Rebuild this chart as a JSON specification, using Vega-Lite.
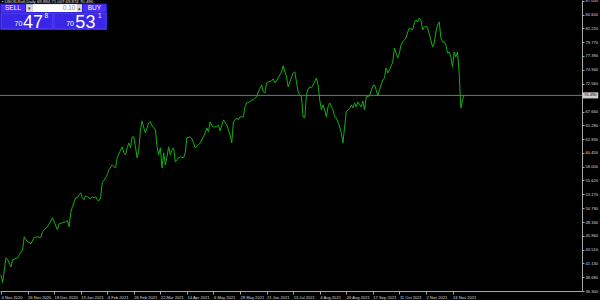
{
  "$schema": "https://vega.github.io/schema/vega-lite/v6.json",
  "width": 582,
  "height": 291,
  "autosize": {"type": "none"},
  "padding": {"left": 0, "top": 0, "right": 18, "bottom": 9},
  "background": "#000000",
  "config": {
    "view": {"stroke": null},
    "axis": {"grid": false, "domainColor": "#a8a8a8", "tickColor": "#a8a8a8", "labelColor": "#d8d8d8", "labelFont": "Liberation Sans", "labelFontSize": 4.1, "labelOverlap": false, "labelSeparation": 0, "labelFlush": false, "labelBound": false, "tickCount": 200},
    "text": {"font": "Liberation Sans"}
  },
  "layer": [
    {
      "data": {"values": [
        {"bar":0,"close":39.15},{"bar":1,"close":37.75},{"bar":3,"close":42.11},{"bar":4,"close":41.76},{"bar":6,"close":40.54},{"bar":7,"close":41.76},{"bar":10,"close":42.11},{"bar":11,"close":42.64},{"bar":13,"close":43.51},{"bar":14,"close":45.78},{"bar":15,"close":45.26},{"bar":16,"close":44.91},{"bar":18,"close":44.56},{"bar":20,"close":45.61},{"bar":22,"close":45.78},{"bar":24,"close":45.61},{"bar":25,"close":46.65},{"bar":26,"close":47.00},{"bar":28,"close":47.52},{"bar":31,"close":49.10},{"bar":32,"close":48.40},{"bar":34,"close":47.00},{"bar":35,"close":48.05},{"bar":37,"close":48.23},{"bar":39,"close":48.40},{"bar":40,"close":48.57},{"bar":41,"close":47.52},{"bar":42,"close":49.97},{"bar":43,"close":51.02},{"bar":45,"close":52.59},{"bar":46,"close":52.59},{"bar":47,"close":53.11},{"bar":48,"close":53.46},{"bar":49,"close":52.59},{"bar":50,"close":52.24},{"bar":51,"close":52.94},{"bar":52,"close":52.76},{"bar":54,"close":52.42},{"bar":55,"close":52.76},{"bar":56,"close":52.59},{"bar":57,"close":52.76},{"bar":58,"close":52.24},{"bar":59,"close":52.07},{"bar":60,"close":52.59},{"bar":61,"close":55.21},{"bar":63,"close":56.08},{"bar":64,"close":56.61},{"bar":65,"close":57.48},{"bar":67,"close":58.35},{"bar":68,"close":58.00},{"bar":69,"close":57.83},{"bar":70,"close":59.57},{"bar":71,"close":60.27},{"bar":73,"close":61.49},{"bar":74,"close":60.45},{"bar":75,"close":60.10},{"bar":76,"close":61.32},{"bar":77,"close":62.19},{"bar":78,"close":61.32},{"bar":79,"close":63.24},{"bar":80,"close":63.24},{"bar":81,"close":61.49},{"bar":82,"close":59.57},{"bar":83,"close":60.97},{"bar":84,"close":64.46},{"bar":85,"close":66.03},{"bar":86,"close":64.81},{"bar":87,"close":63.94},{"bar":89,"close":65.69},{"bar":90,"close":65.86},{"bar":91,"close":65.16},{"bar":93,"close":64.46},{"bar":94,"close":61.49},{"bar":95,"close":60.10},{"bar":96,"close":61.32},{"bar":97,"close":57.83},{"bar":98,"close":60.45},{"bar":99,"close":58.35},{"bar":100,"close":59.75},{"bar":101,"close":61.49},{"bar":102,"close":60.10},{"bar":103,"close":60.97},{"bar":104,"close":61.32},{"bar":105,"close":58.88},{"bar":107,"close":59.57},{"bar":108,"close":59.75},{"bar":110,"close":59.57},{"bar":111,"close":60.45},{"bar":112,"close":63.07},{"bar":114,"close":63.24},{"bar":115,"close":62.89},{"bar":116,"close":62.19},{"bar":117,"close":61.32},{"bar":119,"close":61.84},{"bar":120,"close":62.19},{"bar":122,"close":63.24},{"bar":123,"close":63.94},{"bar":124,"close":64.81},{"bar":125,"close":64.11},{"bar":126,"close":65.86},{"bar":127,"close":65.16},{"bar":128,"close":64.99},{"bar":130,"close":64.99},{"bar":131,"close":65.34},{"bar":132,"close":64.29},{"bar":134,"close":66.21},{"bar":136,"close":65.34},{"bar":138,"close":63.59},{"bar":139,"close":62.19},{"bar":140,"close":65.86},{"bar":142,"close":66.56},{"bar":143,"close":66.21},{"bar":144,"close":66.73},{"bar":146,"close":66.73},{"bar":147,"close":68.48},{"bar":148,"close":69.18},{"bar":150,"close":69.35},{"bar":151,"close":69.70},{"bar":152,"close":69.70},{"bar":154,"close":70.23},{"bar":155,"close":71.10},{"bar":157,"close":72.32},{"bar":158,"close":71.10},{"bar":159,"close":70.92},{"bar":160,"close":72.67},{"bar":161,"close":72.84},{"bar":163,"close":73.02},{"bar":164,"close":73.37},{"bar":165,"close":72.67},{"bar":166,"close":73.02},{"bar":167,"close":73.54},{"bar":169,"close":74.59},{"bar":170,"close":75.64},{"bar":172,"close":73.72},{"bar":173,"close":71.97},{"bar":174,"close":72.84},{"bar":176,"close":74.41},{"bar":177,"close":74.59},{"bar":178,"close":72.84},{"bar":179,"close":71.10},{"bar":180,"close":70.57},{"bar":181,"close":70.23},{"bar":182,"close":66.73},{"bar":183,"close":66.56},{"bar":184,"close":70.57},{"bar":185,"close":71.62},{"bar":186,"close":71.97},{"bar":187,"close":71.80},{"bar":189,"close":72.84},{"bar":190,"close":73.54},{"bar":191,"close":72.32},{"bar":192,"close":69.70},{"bar":193,"close":67.95},{"bar":194,"close":68.83},{"bar":195,"close":67.95},{"bar":196,"close":66.73},{"bar":197,"close":68.48},{"bar":198,"close":69.18},{"bar":200,"close":67.95},{"bar":201,"close":66.73},{"bar":202,"close":66.56},{"bar":204,"close":64.99},{"bar":205,"close":63.94},{"bar":206,"close":62.19},{"bar":207,"close":64.99},{"bar":208,"close":67.60},{"bar":209,"close":67.95},{"bar":210,"close":68.13},{"bar":211,"close":68.83},{"bar":212,"close":68.30},{"bar":213,"close":69.18},{"bar":214,"close":68.48},{"bar":215,"close":69.35},{"bar":216,"close":68.83},{"bar":217,"close":68.48},{"bar":218,"close":69.53},{"bar":219,"close":67.95},{"bar":220,"close":70.23},{"bar":222,"close":70.40},{"bar":224,"close":72.15},{"bar":225,"close":72.32},{"bar":226,"close":71.45},{"bar":227,"close":70.40},{"bar":228,"close":71.45},{"bar":230,"close":73.19},{"bar":231,"close":73.54},{"bar":232,"close":75.29},{"bar":233,"close":74.41},{"bar":234,"close":74.94},{"bar":236,"close":76.33},{"bar":237,"close":78.78},{"bar":239,"close":77.03},{"bar":240,"close":77.91},{"bar":241,"close":79.30},{"bar":242,"close":79.83},{"bar":244,"close":80.53},{"bar":245,"close":81.57},{"bar":246,"close":82.27},{"bar":248,"close":81.92},{"bar":249,"close":83.14},{"bar":250,"close":83.67},{"bar":251,"close":83.32},{"bar":252,"close":84.02},{"bar":253,"close":83.67},{"bar":254,"close":81.92},{"bar":255,"close":82.45},{"bar":256,"close":82.62},{"bar":257,"close":82.27},{"bar":258,"close":81.22},{"bar":260,"close":78.95},{"bar":261,"close":79.65},{"bar":262,"close":81.57},{"bar":263,"close":82.80},{"bar":264,"close":83.32},{"bar":265,"close":80.53},{"bar":266,"close":79.83},{"bar":267,"close":79.83},{"bar":268,"close":79.30},{"bar":269,"close":77.91},{"bar":270,"close":78.08},{"bar":271,"close":77.21},{"bar":272,"close":75.46},{"bar":273,"close":78.08},{"bar":274,"close":77.21},{"bar":275,"close":78.08},{"bar":276,"close":74.41},{"bar":277,"close":68.30},{"bar":278,"close":69.70},{"bar":279,"close":70.49}
      ]},
      "mark": {"type": "line", "color": "#12b012", "strokeWidth": 1, "clip": true},
      "encoding": {
        "x": {"field": "bar", "type": "quantitative", "title": null,
          "scale": {"domain": [-0.6, 350], "nice": false, "zero": false},
          "axis": {"orient": "bottom", "values": [0,16,32,48,64,80,96,112,128,144,160,176,192,208,224,240,256,272], "tickCount": 200,
            "labelExpr": "['4 Nov 2020','26 Nov 2020','18 Dec 2020','13 Jan 2021','4 Feb 2021','26 Feb 2021','22 Mar 2021','14 Apr 2021','6 May 2021','28 May 2021','21 Jun 2021','13 Jul 2021','4 Aug 2021','26 Aug 2021','17 Sep 2021','11 Oct 2021','2 Nov 2021','24 Nov 2021'][round(datum.value/16)]",
            "labelAlign": "left", "labelPadding": 1, "tickSize": 3, "labelBaseline": "top", "labelDx": 1, "labelOverlap": false}},
        "y": {"field": "close", "type": "quantitative", "title": null,
          "scale": {"domain": [36.3, 87.161], "nice": false, "zero": false},
          "axis": {"orient": "right", "values": [87.05,84.6,82.22,79.77,77.39,74.94,72.56,67.66,65.28,62.83,60.45,58.0,55.62,53.17,50.79,48.34,45.96,43.51,41.13,38.68,36.3], "tickCount": 200,
            "format": ".3f", "tickSize": 2, "labelPadding": 1, "labelOverlap": false}}
      }
    },
    {
      "data": {"values": [{}]},
      "mark": {"type": "rule", "color": "#6e7688", "strokeWidth": 1},
      "encoding": {"y": {"datum": 70.49, "type": "quantitative", "title": null}}
    },
    {
      "data": {"values": [{}]},
      "mark": {"type": "rect", "fill": "#cfcfcf", "clip": false},
      "encoding": {
        "x": {"datum": 350.3, "type": "quantitative", "title": null},
        "x2": {"datum": 359.8},
        "y": {"datum": 71.02, "type": "quantitative", "title": null},
        "y2": {"datum": 69.96}
      }
    },
    {
      "data": {"values": [{"label": "70.490"}]},
      "mark": {"type": "text", "color": "#000000", "fontSize": 4.1, "align": "left", "baseline": "middle", "dx": 1.5},
      "encoding": {
        "x": {"datum": 350.3, "type": "quantitative", "title": null},
        "y": {"datum": 70.49, "type": "quantitative", "title": null},
        "text": {"field": "label"}
      }
    },
    {
      "data": {"values": [{"label": "▪ USOILRoll,Daily  69.894 71.007 69.874 70.490"}]},
      "mark": {"type": "text", "color": "#e0e0e0", "fontSize": 4.3, "align": "left", "baseline": "middle"},
      "encoding": {
        "x": {"datum": 0.6, "type": "quantitative", "title": null},
        "y": {"datum": 86.85, "type": "quantitative", "title": null},
        "text": {"field": "label"}
      }
    },
    {
      "data": {"values": [{}]},
      "mark": {"type": "rect", "fill": "#2b1cc0"},
      "encoding": {
        "x": {"datum": -0.6, "type": "quantitative", "title": null},
        "x2": {"datum": 63.9},
        "y": {"datum": 86.55, "type": "quantitative", "title": null},
        "y2": {"datum": 81.9}
      }
    },
    {
      "data": {"values": [{}]},
      "mark": {"type": "rect", "fill": "#4a2cff"},
      "encoding": {
        "x": {"datum": 0, "type": "quantitative", "title": null},
        "x2": {"datum": 14.5},
        "y": {"datum": 86.4, "type": "quantitative", "title": null},
        "y2": {"datum": 85.06}
      }
    },
    {
      "data": {"values": [{}]},
      "mark": {"type": "rect", "fill": "#4a2cff"},
      "encoding": {
        "x": {"datum": 49.4, "type": "quantitative", "title": null},
        "x2": {"datum": 63.3},
        "y": {"datum": 86.4, "type": "quantitative", "title": null},
        "y2": {"datum": 85.06}
      }
    },
    {
      "data": {"values": [{}]},
      "mark": {"type": "rect", "fill": "#d8d8d8"},
      "encoding": {
        "x": {"datum": 15.1, "type": "quantitative", "title": null},
        "x2": {"datum": 48.8},
        "y": {"datum": 86.4, "type": "quantitative", "title": null},
        "y2": {"datum": 85.06}
      }
    },
    {
      "data": {"values": [{}]},
      "mark": {"type": "rect", "fill": "#ffffff"},
      "encoding": {
        "x": {"datum": 19.3, "type": "quantitative", "title": null},
        "x2": {"datum": 45.8},
        "y": {"datum": 86.4, "type": "quantitative", "title": null},
        "y2": {"datum": 85.06}
      }
    },
    {
      "data": {"values": [{}]},
      "mark": {"type": "rect", "fill": "#3a26e6", "stroke": "#5a48ff", "strokeWidth": 0.8},
      "encoding": {
        "x": {"datum": 0.2, "type": "quantitative", "title": null},
        "x2": {"datum": 31.2},
        "y": {"datum": 84.85, "type": "quantitative", "title": null},
        "y2": {"datum": 82.1}
      }
    },
    {
      "data": {"values": [{}]},
      "mark": {"type": "rect", "fill": "#3a26e6", "stroke": "#5a48ff", "strokeWidth": 0.8},
      "encoding": {
        "x": {"datum": 31.9, "type": "quantitative", "title": null},
        "x2": {"datum": 63.3},
        "y": {"datum": 84.85, "type": "quantitative", "title": null},
        "y2": {"datum": 82.1}
      }
    },
    {
      "data": {"values": [{"t": "SELL"}]},
      "mark": {"type": "text", "color": "#ffffff", "fontSize": 6.5, "align": "center", "baseline": "middle"},
      "encoding": {"x": {"datum": 7.2, "type": "quantitative", "title": null}, "y": {"datum": 85.73, "type": "quantitative", "title": null}, "text": {"field": "t"}}
    },
    {
      "data": {"values": [{"t": "BUY"}]},
      "mark": {"type": "text", "color": "#ffffff", "fontSize": 6.5, "align": "center", "baseline": "middle"},
      "encoding": {"x": {"datum": 56.3, "type": "quantitative", "title": null}, "y": {"datum": 85.73, "type": "quantitative", "title": null}, "text": {"field": "t"}}
    },
    {
      "data": {"values": [{"t": "0.10"}]},
      "mark": {"type": "text", "color": "#8a8a8a", "fontSize": 6.5, "align": "right", "baseline": "middle"},
      "encoding": {"x": {"datum": 44.8, "type": "quantitative", "title": null}, "y": {"datum": 85.73, "type": "quantitative", "title": null}, "text": {"field": "t"}}
    },
    {
      "data": {"values": [{"t": "▾"}]},
      "mark": {"type": "text", "color": "#333333", "fontSize": 5, "align": "center", "baseline": "middle"},
      "encoding": {"x": {"datum": 17.2, "type": "quantitative", "title": null}, "y": {"datum": 85.73, "type": "quantitative", "title": null}, "text": {"field": "t"}}
    },
    {
      "data": {"values": [{"t": "▴"}]},
      "mark": {"type": "text", "color": "#333333", "fontSize": 5, "align": "center", "baseline": "middle"},
      "encoding": {"x": {"datum": 47.3, "type": "quantitative", "title": null}, "y": {"datum": 85.73, "type": "quantitative", "title": null}, "text": {"field": "t"}}
    },
    {
      "data": {"values": [{"t": "70"}]},
      "mark": {"type": "text", "color": "#ffffff", "fontSize": 7, "align": "center", "baseline": "middle"},
      "encoding": {"x": {"datum": 10.5, "type": "quantitative", "title": null}, "y": {"datum": 83.0, "type": "quantitative", "title": null}, "text": {"field": "t"}}
    },
    {
      "data": {"values": [{"t": "47"}]},
      "mark": {"type": "text", "color": "#ffffff", "fontSize": 18, "align": "left", "baseline": "alphabetic"},
      "encoding": {"x": {"datum": 13.3, "type": "quantitative", "title": null}, "y": {"datum": 82.25, "type": "quantitative", "title": null}, "text": {"field": "t"}}
    },
    {
      "data": {"values": [{"t": "8"}]},
      "mark": {"type": "text", "color": "#ffffff", "fontSize": 6.5, "align": "center", "baseline": "middle"},
      "encoding": {"x": {"datum": 27.3, "type": "quantitative", "title": null}, "y": {"datum": 84.3, "type": "quantitative", "title": null}, "text": {"field": "t"}}
    },
    {
      "data": {"values": [{"t": "70"}]},
      "mark": {"type": "text", "color": "#ffffff", "fontSize": 7, "align": "center", "baseline": "middle"},
      "encoding": {"x": {"datum": 41.6, "type": "quantitative", "title": null}, "y": {"datum": 83.0, "type": "quantitative", "title": null}, "text": {"field": "t"}}
    },
    {
      "data": {"values": [{"t": "53"}]},
      "mark": {"type": "text", "color": "#ffffff", "fontSize": 18, "align": "left", "baseline": "alphabetic"},
      "encoding": {"x": {"datum": 44.8, "type": "quantitative", "title": null}, "y": {"datum": 82.25, "type": "quantitative", "title": null}, "text": {"field": "t"}}
    },
    {
      "data": {"values": [{"t": "1"}]},
      "mark": {"type": "text", "color": "#ffffff", "fontSize": 6.5, "align": "center", "baseline": "middle"},
      "encoding": {"x": {"datum": 59.6, "type": "quantitative", "title": null}, "y": {"datum": 84.3, "type": "quantitative", "title": null}, "text": {"field": "t"}}
    }
  ]
}
